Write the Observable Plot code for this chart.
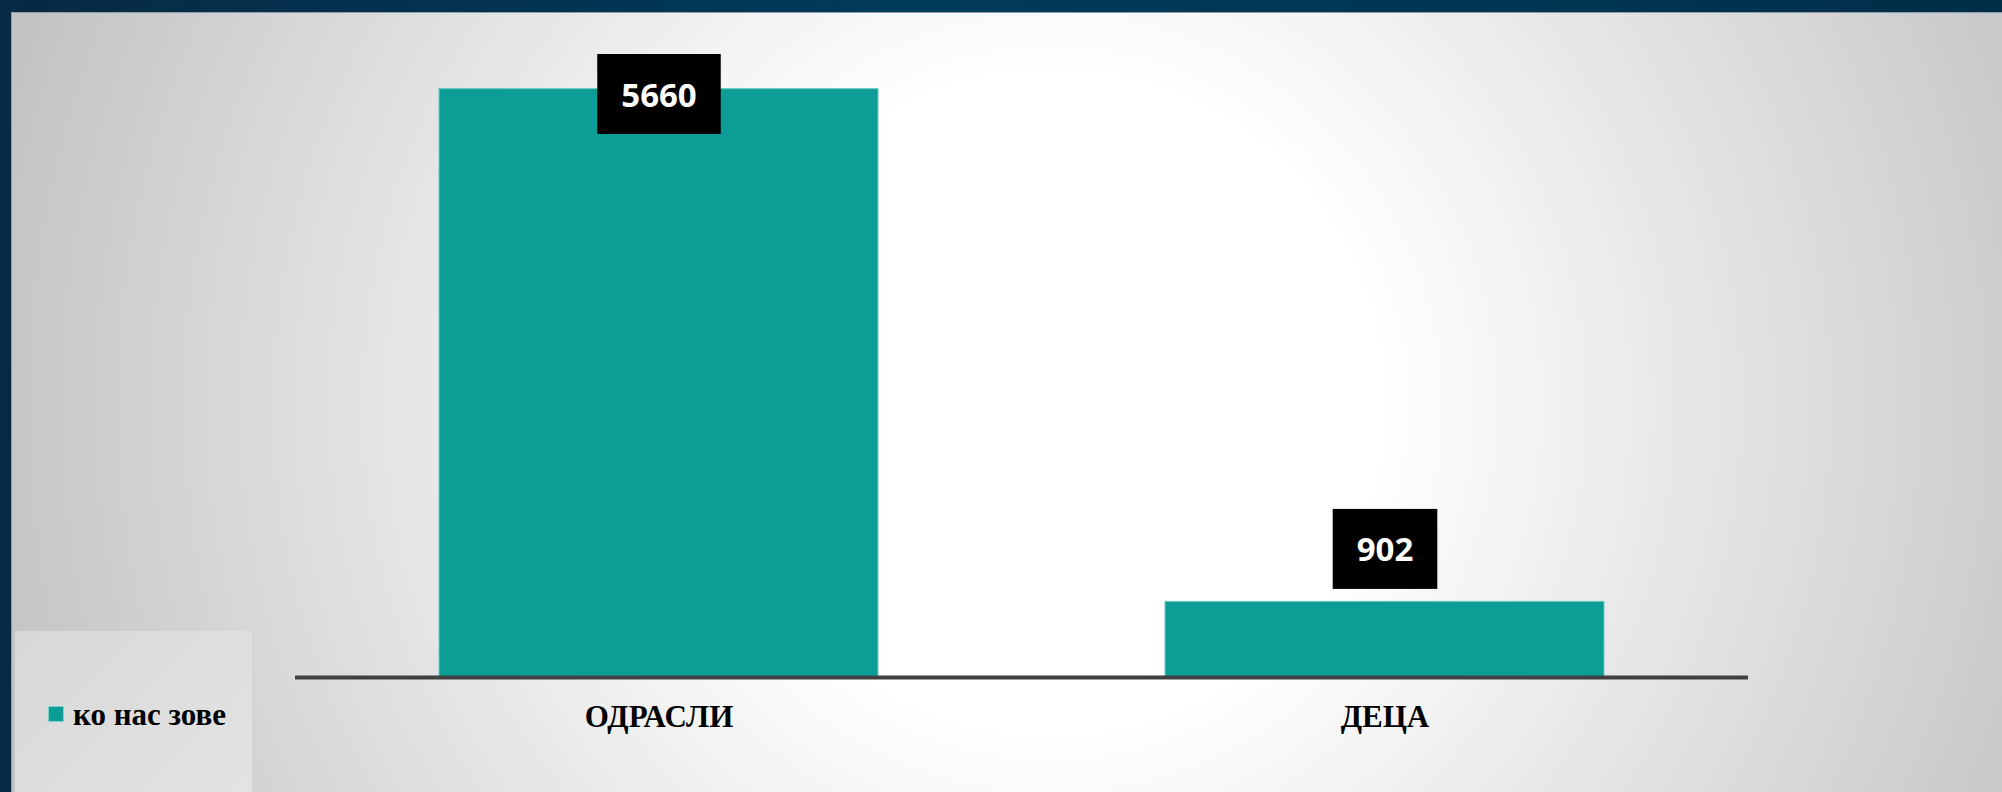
<!DOCTYPE html>
<html>
<head>
<meta charset="utf-8">
<script src="https://cdn.jsdelivr.net/npm/d3@7"></script>
<script src="https://cdn.jsdelivr.net/npm/@observablehq/plot@0.6"></script>
<style>
  html, body { margin: 0; padding: 0; }
  body {
    width: 2002px; height: 792px; overflow: hidden; position: relative;
    background: linear-gradient(to right, #072a45 0%, #003a5a 45%, #003552 80%, #002d47 100%);
  }
  #panel {
    position: absolute; left: 11px; top: 12px; right: 0; bottom: 0;
    box-sizing: border-box;
    border-top: 1px solid #8e9ea8; border-left: 1px solid #8e9ea8;
    background: radial-gradient(circle 1090px at 1040px 390px, #ffffff 0%, #ffffff 30%, #c3c3c3 100%);
  }
  #legendbox {
    position: absolute; left: 15px; top: 631px; width: 237px; height: 161px;
    background: linear-gradient(135deg, #d8d8d8 0%, #e3e3e3 100%);
  }
  #legend {
    position: absolute; left: 48px; top: 699px;
    display: flex; align-items: flex-start;
    font-family: "Liberation Serif", "Times New Roman", serif;
    font-weight: bold; font-size: 31px; line-height: 31px; color: #000;
  }
  #legend .sw {
    width: 14px; height: 14px; margin-top: 7px; margin-right: 9px;
    background: #0c9e96; border: 1px solid #7fd1cc;
  }
  #chart { position: absolute; left: 0; top: 0; }
  #chart g[aria-label="x-axis tick label"] text {
    font-family: "Liberation Serif", "Times New Roman", serif;
    font-weight: bold;
  }
</style>
</head>
<body>
<div id="panel"></div>
<div id="legendbox"></div>
<div id="chart"></div>
<div id="legend"></div>
<script>
// ---- data ----
const categories = ["ОДРАСЛИ", "ДЕЦА"];
const values = [5660, 902];
const seriesName = "ко нас зове";

const data = categories.map((c, i) => ({category: c, value: values[i]}));

const yDomain = [200, 6000];
const marginTop = 52;

const svg = Plot.plot({
  width: 2002,
  height: 792,
  marginLeft: 295,
  marginRight: 254,
  marginTop: marginTop,
  marginBottom: 115,
  style: {background: "transparent", overflow: "visible", color: "#000"},
  x: {domain: categories, paddingInner: 0.395, paddingOuter: 0.197, label: null},
  y: {domain: yDomain, axis: null},
  marks: [
    Plot.barY(data, {x: "category", y1: yDomain[0], y2: "value", fill: "#0c9e96", stroke: "#6cc8c2", strokeWidth: 1}),
    Plot.ruleY([yDomain[0]], {stroke: "#404040", strokeWidth: 4}),
    Plot.axisX({tickSize: 0, tickPadding: 27, fontSize: 31, fontWeight: "bold", label: null}),
    Plot.text(data, {
      x: "category", y: "value", text: d => String(d.value), dy: -51,
      fill: "white", fontSize: 33, fontWeight: "bold", fontFamily: "Open Sans, Noto Sans, sans-serif"
    })
  ]
});
document.getElementById("chart").appendChild(svg);

// black label boxes, PowerPoint-style "outside end" labels clamped into the plot area
(function () {
  const ns = "http://www.w3.org/2000/svg";
  const textG = svg.querySelector('g[aria-label="text"]');
  if (!textG) return;
  const boxG = document.createElementNS(ns, "g");
  textG.parentNode.insertBefore(boxG, textG);
  const boxH = 80, padX = 48, minTop = marginTop + 2;
  textG.querySelectorAll("text").forEach(t => {
    const s = svg.getBoundingClientRect();
    let r = t.getBoundingClientRect();
    const cy0 = r.y + r.height / 2 - s.y;
    if (cy0 - boxH / 2 < minTop) {
      const shift = minTop - (cy0 - boxH / 2);
      t.setAttribute("transform", (t.getAttribute("transform") || "") + ` translate(0,${shift})`);
    }
    r = t.getBoundingClientRect();
    const cx = r.x + r.width / 2 - s.x;
    const cy = r.y + r.height / 2 - s.y;
    const w = r.width + padX;
    const rect = document.createElementNS(ns, "rect");
    rect.setAttribute("x", cx - w / 2);
    rect.setAttribute("y", cy - boxH / 2);
    rect.setAttribute("width", w);
    rect.setAttribute("height", boxH);
    rect.setAttribute("fill", "#000");
    boxG.appendChild(rect);
  });
})();

// legend
const legend = document.getElementById("legend");
const sw = document.createElement("div");
sw.className = "sw";
const lab = document.createElement("span");
lab.textContent = seriesName;
legend.appendChild(sw);
legend.appendChild(lab);
</script>
</body>
</html>
